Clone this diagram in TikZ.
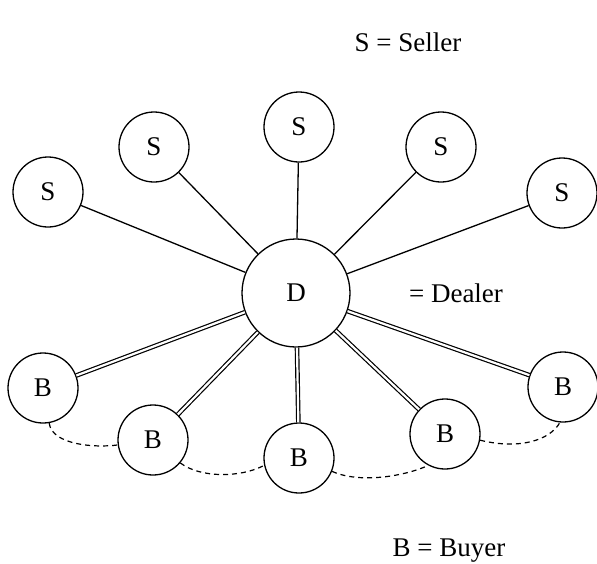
\documentclass[tikz,border=0pt]{standalone}
\usepackage{fontspec}
\setmainfont{Liberation Serif}
\begin{document}
\begin{tikzpicture}[x=1pt,y=-1pt,
  every node/.style={font=\fontsize{27}{31}\selectfont},
  party/.style={circle,draw,line width=1.3pt,minimum size=70pt,inner sep=0pt},
  dealer/.style={circle,draw,line width=1.3pt,minimum size=108pt,inner sep=0pt},
  link/.style={line width=1.3pt},
  dlink/.style={line width=1.2pt,double,double distance=2.2pt},
  chat/.style={line width=1.2pt,dash pattern=on 5pt off 4pt}]
\useasboundingbox (0,0) rectangle (597,563);
\node[dealer] (D) at (296,293) {D};
\node[party] (s1) at (48,192) {S};
\node[party] (s2) at (154,147) {S};
\node[party] (s3) at (299,127) {S};
\node[party] (s4) at (441,147) {S};
\node[party] (s5) at (562,193) {S};
\node[party] (b1) at (43,388) {B};
\node[party] (b2) at (153,440) {B};
\node[party] (b3) at (299,458) {B};
\node[party] (b4) at (445,434) {B};
\node[party] (b5) at (563,387) {B};
\foreach \s in {s1,s2,s3,s4,s5} \draw[link] (D) -- (\s);
\foreach \b in {b1,b2,b3,b4,b5} \draw[dlink] (D) -- (\b);
\draw[chat] (b1.-80) .. controls (52,445) and (95,448) .. (b2.188);
\draw[chat] (b2.-40) .. controls (200,478) and (240,478) .. (b3.192);
\draw[chat] (b3.-22) .. controls (360,484) and (405,476) .. (b4.-118);
\draw[chat] (b4.-10) .. controls (520,450) and (550,440) .. (b5.-95);
\node (ls) at (408,42) {S = Seller};
\node (ld) at (456,293) {= Dealer};
\node (lb) at (449,551) {B = Buyer};
\end{tikzpicture}
\end{document}
